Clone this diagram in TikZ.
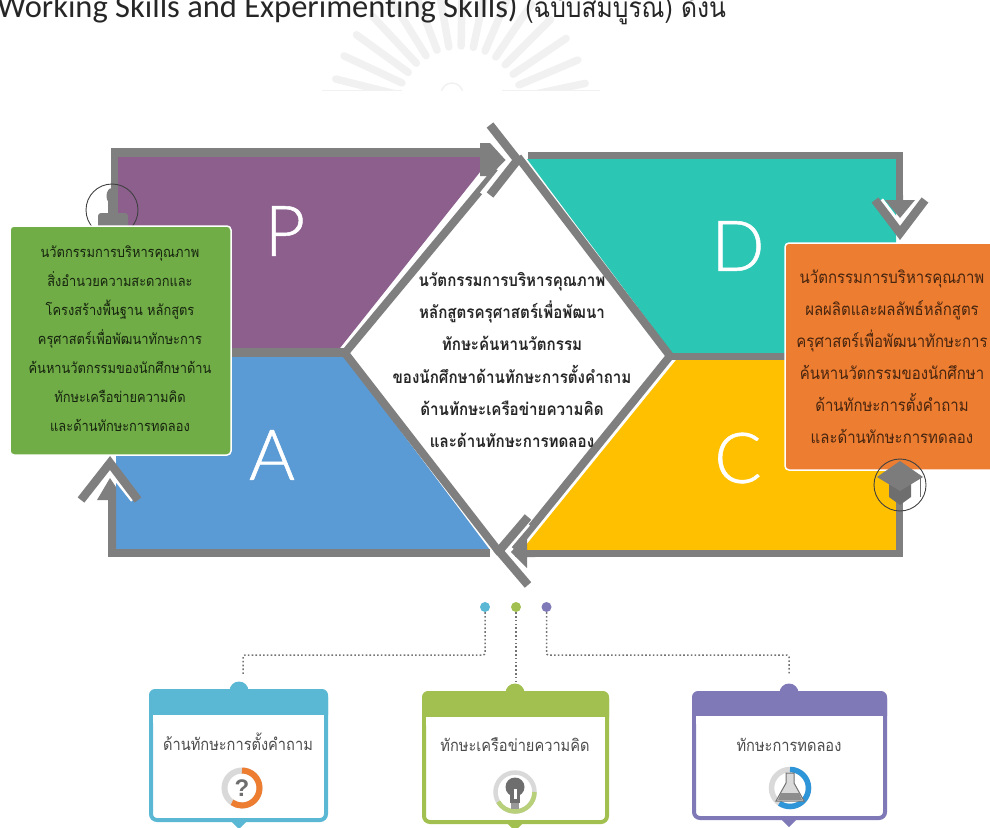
\documentclass[tikz,border=0pt]{standalone}
\usepackage{fontspec}
\setmainfont{Noto Sans}
\newfontfamily\thaifont[Script=Thai,FakeStretch=0.88]{Loma}
\newfontfamily\headthai[Script=Thai,FakeStretch=0.88]{Loma}
\newfontfamily\letterfont[FakeBold=0.8]{Lato Light}
\newfontfamily\headfont[Ligatures=NoCommon]{Carlito}
\newfontfamily\qfont{Liberation Sans}
\definecolor{bandgray}{HTML}{7F7F7F}
\definecolor{cP}{HTML}{8C5F8D}
\definecolor{cD}{HTML}{2BC6B4}
\definecolor{cA}{HTML}{5B9BD5}
\definecolor{cC}{HTML}{FFC000}
\definecolor{boxgreen}{HTML}{70AD47}
\definecolor{boxorange}{HTML}{ED7D31}
\definecolor{cardblue}{HTML}{5BB8D4}
\definecolor{cardgreen}{HTML}{A2C04F}
\definecolor{cardpurple}{HTML}{7F79B8}
\definecolor{ringgray}{HTML}{D9D9D9}
\definecolor{icongray}{HTML}{6E6E6E}
\definecolor{seal}{HTML}{F1F1F1}
\tikzset{
  chev/.style={draw=bandgray,line width=8.5pt,miter limit=10},
  gapline/.style={draw=white,line width=5pt,miter limit=10},
  edgeline/.style={draw=bandgray,line width=8pt,line cap=butt},
  infotext/.style={font=\thaifont\fontsize{14.6}{29}\selectfont,align=center,anchor=center},
  midtext/.style={font=\thaifont\bfseries\fontsize{17.2}{32.2}\selectfont,align=center,anchor=center,text=black!85},
  bigletter/.style={font=\letterfont\fontsize{70}{70}\selectfont,text=white,anchor=center},
  cardtext/.style={font=\thaifont\fontsize{16.6}{18}\selectfont,text=black!70,anchor=center},
  dotnode/.style={circle,inner sep=0pt,minimum size=10pt},
  leader/.style={draw=black!55,line width=1.5pt,dash pattern=on 1.6pt off 2.2pt,rounded corners=2pt},
  iconring/.style={circle,draw=black!75,line width=0.9pt,minimum size=52pt,inner sep=0pt}
}
\begin{document}
\begin{tikzpicture}[x=1pt,y=-1pt]
\useasboundingbox (0,0) rectangle (990,827);
\clip (0,0) rectangle (990,827);
% watermark
\begin{scope}
\clip (300,0) rectangle (620,90);
\foreach \a in {12,23,...,170}{
  \draw[seal,line width=7.5pt,line cap=round] ({460+64*cos(\a)},{110-64*sin(\a)}) -- ({460+128*cos(\a)},{110-128*sin(\a)});
}
\draw[seal,line width=1.5pt] (452,94) circle (11);
\end{scope}
\draw[seal,line width=1pt] (322,90) -- (402,90) (502,90) -- (600,90);
% heading
\node[anchor=base west,inner sep=0pt,text=black!85,font=\headfont\fontsize{32.5}{34}\selectfont] (head) at (-3,17) {Working Skills and Experimenting Skills) {\headthai\fontsize{28}{34}\selectfont (ฉบับสมบูรณ์) ดังนี้}};
% coloured sectors
\fill[cP] (118,157) -- (492,157) -- (340,348) -- (118,348) -- cycle;
\fill[cD] (527,159) -- (896,159) -- (896,353) -- (672,353) -- cycle;
\fill[cA] (116,357) -- (345,357) -- (490,550) -- (116,550) -- cycle;
\fill[cC] (676,360) -- (896,360) -- (896,550) -- (522,550) -- cycle;
% bands
\fill[bandgray] (111,148) rectangle (492,157);
\fill[bandgray] (111,148) rectangle (118,240);
\fill[bandgray] (528,152) rectangle (903,159);
\fill[bandgray] (896,152) rectangle (903,205);
\fill[bandgray] (108,549) rectangle (490,557);
\fill[bandgray] (515,550) rectangle (903,557);
\fill[bandgray] (896,500) rectangle (903,557);
\fill[bandgray] (118,348) rectangle (345,357);
\fill[bandgray] (670,353) rectangle (896,360);
% diamond
\fill[white] (523,163) -- (670,356) -- (512,547) -- (498,547) -- (345,353) -- (500,165) -- cycle;
\draw[edgeline] (345,353) -- (497,170);
\draw[edgeline] (518,157) -- (670,356);
\draw[edgeline] (345,353) -- (500,553);
\draw[edgeline] (670,356) -- (514,549);
% top arrow
\draw[gapline] (482,124) -- (509.5,160) -- (482,194);
\fill[bandgray] (480,143) -- (490,143) -- (505.5,160) -- (490,176) -- (480,176) -- cycle;
\draw[chev] (490,125) -- (517.5,160) -- (490,195);
% right arrow
\draw[gapline] (881,200) -- (900,225) -- (919,200);
\fill[bandgray] (896,195) -- (903,195) -- (903,200) -- (915,200) -- (900,218) -- (885,200) -- (896,200) -- cycle;
\draw[chev] (875,200) -- (900,233) -- (925,200);
% bottom arrow
\draw[gapline] (528,524) -- (505,551) -- (528,578);
\fill[bandgray] (535,550) -- (527,550) -- (527,534) -- (511,552) -- (527,568) -- (527,557) -- (535,557) -- cycle;
\draw[chev] (528,517) -- (499,551) -- (528,585);
% left arrow
\draw[gapline] (88,500) -- (110,471) -- (133,500);
\fill[bandgray] (116,500) -- (116,487) -- (110,478) -- (97,500) -- (108,500) -- (108,549) -- (116,549) -- cycle;
\draw[chev] (81,500) -- (110,463) -- (138,500);
% big letters
\node[bigletter] (letterP) at (285,231) {P};
\node[bigletter] (letterD) at (738,246) {D};
\node[bigletter] (letterA) at (272,455) {A};
\node[bigletter] (letterC) at (738,458) {C};
% person icon
\fill[bandgray] (112,196) ellipse (5.5 and 8);
\fill[bandgray,rounded corners=3pt] (98,228) -- (98,213) -- (128,213) -- (128,228) -- cycle;
\fill[bandgray] (108,200) rectangle (116,215);
\node[iconring] (person) at (112,210) {};
% green box
\node[draw=white,line width=1.5pt,fill=boxgreen,rounded corners=4pt,minimum width=221pt,minimum height=229pt,inner sep=0pt] (greenbox) at (120.5,340.5) {};
\node[infotext,text=black!80!boxgreen] (greentext) at (120,339) {นวัตกรรมการบริหารคุณภาพ\\สิ่งอำนวยความสะดวกและ\\โครงสร้างพื้นฐาน หลักสูตร\\ครุศาสตร์เพื่อพัฒนาทักษะการ\\ค้นหานวัตกรรมของนักศึกษาด้าน\\ทักษะเครือข่ายความคิด\\และด้านทักษะการทดลอง};
% orange box
\node[draw=white,line width=1.5pt,fill=boxorange,rounded corners=4pt,minimum width=225pt,minimum height=227pt,inner sep=0pt] (orangebox) at (897.5,356.5) {};
\node[infotext,text=black!70!boxorange,font=\thaifont\fontsize{17}{32}\selectfont] (orangetext) at (892,357) {นวัตกรรมการบริหารคุณภาพ\\ผลผลิตและผลลัพธ์หลักสูตร\\ครุศาสตร์เพื่อพัฒนาทักษะการ\\ค้นหานวัตกรรมของนักศึกษา\\ด้านทักษะการตั้งคำถาม\\และด้านทักษะการทดลอง};
% hat icon
\fill[bandgray] (896,505) rectangle (903,515);
\fill[icongray] (889,484) -- (911,484) -- (911,497) -- (900,505) -- (889,497) -- cycle;
\fill[icongray!90] (900,461) -- (923,477) -- (900,491) -- (877,477) -- cycle;
\draw[icongray,line width=1pt] (920,478) -- (920,497);
\node[iconring] (hat) at (900,485) {};
% centre text
\node[midtext] (centretext) at (512,360) {นวัตกรรมการบริหารคุณภาพ\\หลักสูตรครุศาสตร์เพื่อพัฒนา\\ทักษะค้นหานวัตกรรม\\ของนักศึกษาด้านทักษะการตั้งคำถาม\\ด้านทักษะเครือข่ายความคิด\\และด้านทักษะการทดลอง};
% cards
\foreach \n/\c/\l/\r/\t/\h/\b/\m in {A/cardblue/149/328/689/715/822/239, B/cardgreen/422/609/691/717/824/515, C/cardpurple/692/887/691/716/820/789}{
  \fill[\c] (\m,{\t+2}) circle (9.5);
  \fill[\c] (\m-8,{\b-1}) -- (\m+8,{\b-1}) -- (\m,{\b+7}) -- cycle;
  \draw[\c,line width=4pt,fill=white,rounded corners=6pt] (\l+2,\t+2) rectangle (\r-2,\b-2);
  \fill[\c,rounded corners=6pt] (\l,\t) -- (\r,\t) -- (\r,\h+6) -- (\l,\h+6) -- cycle;
  \fill[white] (\l+4,\h) rectangle (\r-4,\h+8);
  \coordinate (top\n) at (\m,\t-7);
}
\node[cardtext] (cardtextA) at (238,742) {ด้านทักษะการตั้งคำถาม};
\node[cardtext] (cardtextB) at (515,745) {ทักษะเครือข่ายความคิด};
\node[cardtext] (cardtextC) at (789,745) {ทักษะการทดลอง};
% dots and leaders
\node[dotnode,fill=cardblue] (dotA) at (485,607) {};
\node[dotnode,fill=cardgreen] (dotB) at (516,607) {};
\node[dotnode,fill=cardpurple] (dotC) at (546.5,607) {};
\coordinate (cornerA) at (243,655);
\coordinate (endA) at (243,675);
\coordinate (cornerC) at (789,655);
\coordinate (endC) at (789,675);
\draw[leader] (dotA.south) -- (dotA.south |- cornerA) -- (cornerA) -- (endA);
\draw[leader] (dotB.south) -- (dotB.south |- topB);
\draw[leader] (dotC.south) -- (dotC.south |- cornerC) -- (cornerC) -- (endC);
% ring: question
\draw[ringgray,line width=6pt] (242,788) circle (17.5);
\draw[boxorange,line width=6pt] (242,770.5) arc[start angle=-90,end angle=125,radius=17.5];
\node[font=\qfont\bfseries\fontsize{24}{24}\selectfont,text=icongray] (qmark) at (242,788) {?};
% ring: bulb
\draw[ringgray,line width=4.5pt] (515,792) circle (19.5);
\draw[cardgreen!75,line width=4.5pt] (534.5,792) arc[start angle=0,end angle=150,radius=19.5];
\fill[icongray] (515,787) circle (9.5);
\fill[icongray] (510,790) rectangle (520,803);
\fill[white] (513.5,789) rectangle (516.5,799);
\fill[black!40] (511,803) rectangle (519,809);
% ring: flask
\draw[ringgray,line width=5.5pt] (790,788) circle (18.5);
\draw[cyan!70!blue!85,line width=5.5pt] (790,769.5) arc[start angle=-90,end angle=125,radius=18.5];
\fill[black!15,draw=black!55,line width=1pt] (786,773) -- (794,773) -- (794,783) -- (804,801) -- (776,801) -- (786,783) -- cycle;
\fill[black!45] (781,793) -- (799,793) -- (802,800) -- (778,800) -- cycle;
\end{tikzpicture}
\end{document}
